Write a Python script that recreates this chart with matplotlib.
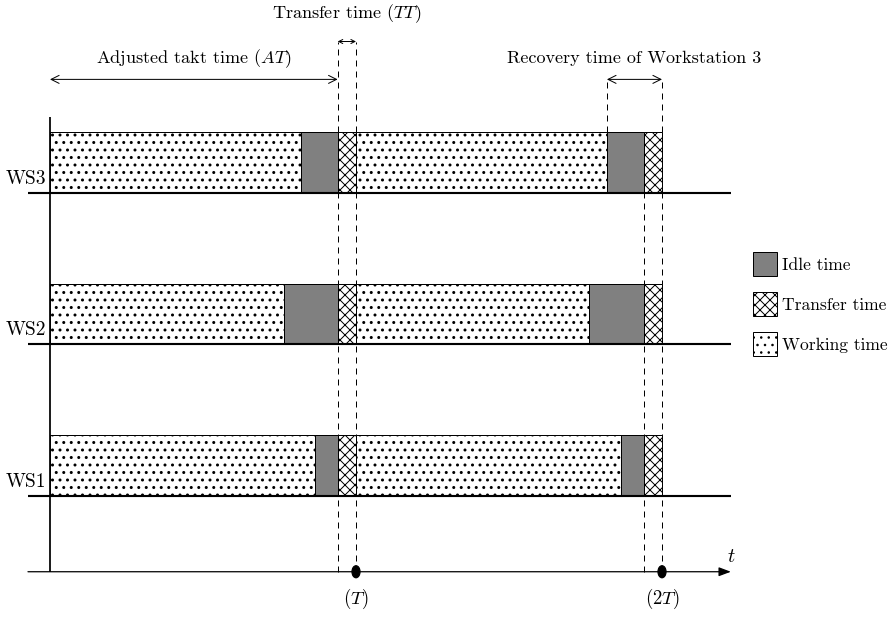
import numpy as np
import matplotlib
matplotlib.use('Agg')
import matplotlib.pyplot as plt
from matplotlib.patches import Patch, Ellipse

plt.rcParams['font.family'] = 'cmr10'
plt.rcParams['mathtext.fontset'] = 'cm'
plt.rcParams['axes.unicode_minus'] = False
plt.rcParams['hatch.linewidth'] = 0.8

# station data (time in units of the takt time T)
stations = ['WS1', 'WS2', 'WS3']
takt_time = 1.0
transfer_time = 0.06
adjusted_time = takt_time - transfer_time
work_cycle1 = [0.865, 0.765, 0.82]
work_cycle2 = [0.865, 0.76, 0.82]
tick_positions = [1.0, 2.0]
tick_labels = ['$(T)$', '$(2T)$']
legend_labels = ['Idle time', 'Transfer time', 'Working time']

idle_color = '#808080'
bar_h = 0.4
fs = 14.5
dash = (0, (6, 5))
dot_rc = {'hatch.linewidth': 1.2}

fig = plt.figure(figsize=(892 / 90, 619 / 90), dpi=90)
ax = fig.add_axes([0, 0, 1, 1])
ax.set_xlim(-0.1634, 2.7516)
ax.set_ylim(0.188, 4.274)
ax.axis('off')

rows = np.arange(1, len(stations) + 1)

# bars for both cycles
for c, work in enumerate([work_cycle1, work_cycle2]):
    start = c * takt_time
    work = np.array(work)
    with plt.rc_context(dot_rc):
        ax.barh(rows, work, left=start, height=bar_h, align='edge',
                facecolor='white', edgecolor='black', hatch='..', lw=0.8, zorder=2)
    ax.barh(rows, adjusted_time - work, left=start + work, height=bar_h, align='edge',
            facecolor=idle_color, edgecolor='black', lw=0.8, zorder=2)
    ax.barh(rows, transfer_time, left=start + adjusted_time, height=bar_h, align='edge',
            facecolor='white', edgecolor='black', hatch='xxx', lw=0.8, zorder=2)

# station baselines and labels
x_start, x_end = -0.072, 2.225
ax.hlines(rows, x_start, x_end, color='black', lw=1.7, zorder=3)
for r, name in zip(rows, stations):
    ax.text(-0.012, r + 0.06, name, ha='right', va='baseline', fontsize=15.5)

# axes
ax.vlines(0, 0.5, 3.5, color='black', lw=1.4, zorder=3)
ax.annotate('', xy=(x_end, 0.5), xytext=(x_start, 0.5),
            arrowprops=dict(arrowstyle='-|>,head_length=0.8,head_width=0.3',
                            color='black', lw=1.0, shrinkA=0, shrinkB=0))
ax.text(x_end, 0.564, '$t$', ha='center', va='baseline', fontsize=16)

for p, lab in zip(tick_positions, tick_labels):
    ax.add_patch(Ellipse((p, 0.5), 8 / 306, 12 / 151.5, color='black', zorder=4))
    ax.text(p, 0.287, lab, ha='center', va='baseline', fontsize=15)

# dashed guide lines
recovery_start = takt_time + work_cycle2[2]
ax.vlines([adjusted_time, takt_time], 0.5, 4.0, color='black', lw=0.8, linestyles=dash, zorder=1)
ax.vlines(recovery_start, 3 + bar_h, 3.75, color='black', lw=0.8, linestyles=dash, zorder=1)
ax.vlines(takt_time + adjusted_time, 0.5, 3.0, color='black', lw=0.8, linestyles=dash, zorder=1)
ax.vlines(2 * takt_time, 0.5, 3.75, color='black', lw=0.8, linestyles=dash, zorder=1)

# dimension arrows
ax.annotate('', xy=(adjusted_time, 3.75), xytext=(0, 3.75),
            arrowprops=dict(arrowstyle='<->', lw=0.8, shrinkA=0, shrinkB=0, mutation_scale=16))
ax.annotate('', xy=(takt_time, 4.0), xytext=(adjusted_time, 4.0),
            arrowprops=dict(arrowstyle='<->', lw=0.8, shrinkA=0, shrinkB=0, mutation_scale=8))
ax.annotate('', xy=(2 * takt_time, 3.75), xytext=(recovery_start, 3.75),
            arrowprops=dict(arrowstyle='<->', lw=0.8, shrinkA=0, shrinkB=0, mutation_scale=16))

ax.text(adjusted_time / 2, 3.858, 'Adjusted takt time ($AT$)', ha='center', va='baseline', fontsize=fs)
ax.text(adjusted_time + transfer_time / 2, 4.155, 'Transfer time ($TT$)', ha='center', va='baseline', fontsize=fs)
ax.text((recovery_start + 2 * takt_time) / 2, 3.858, 'Recovery time of Workstation 3',
        ha='center', va='baseline', fontsize=fs)

# legend
handles = [Patch(facecolor=idle_color, edgecolor='black', lw=0.8),
           Patch(facecolor='white', edgecolor='black', hatch='xxx', lw=0.8)]
with plt.rc_context(dot_rc):
    handles.append(Patch(facecolor='white', edgecolor='black', hatch='..', lw=0.8))
ax.legend(handles, legend_labels, loc='upper left', bbox_to_anchor=(753 / 892, 1 - 252 / 619),
          frameon=False, fontsize=14, handlelength=1.37, handleheight=1.7,
          handletextpad=0.3, labelspacing=0.94, borderpad=0, borderaxespad=0)

fig.savefig('out.png', dpi=90)
